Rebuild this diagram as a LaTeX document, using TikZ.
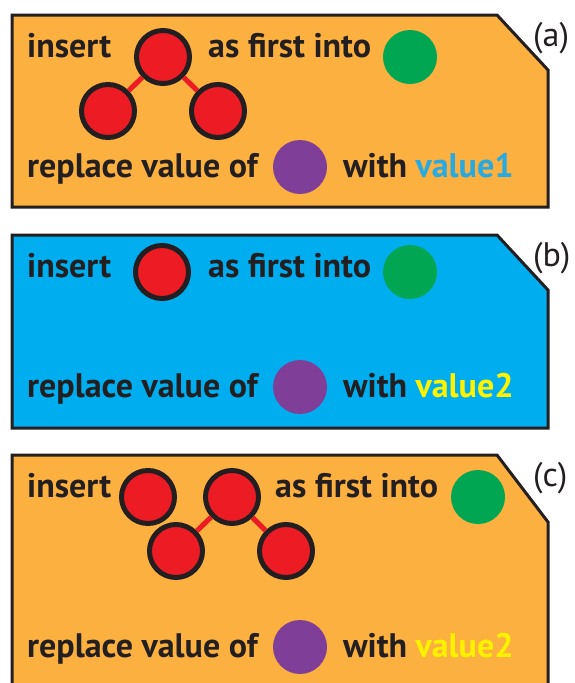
\documentclass[tikz,border=0pt]{standalone}
\usepackage{fontspec}
\setmainfont{PT Sans}
\usetikzlibrary{positioning}

\definecolor{ink}{HTML}{231F20}
\definecolor{panelorange}{HTML}{FBB040}
\definecolor{panelblue}{HTML}{00AEEF}
\definecolor{elemred}{HTML}{ED1C24}
\definecolor{spotgreen}{HTML}{00A651}
\definecolor{spotpurple}{HTML}{7F3F98}
\definecolor{valblue}{HTML}{27AAE1}
\definecolor{valyellow}{HTML}{FFF200}

\begin{document}
\begin{tikzpicture}[x=1pt, y=-1pt,
  word/.style={font=\bfseries\fontsize{34}{40}\selectfont, text=ink, inner sep=0pt, anchor=base west},
  tag/.style={font=\fontsize{34}{40}\selectfont, text=ink, inner sep=0pt, anchor=base west},
  elem/.style={circle, draw=ink, line width=5pt, fill=elemred, minimum size=53pt, inner sep=0pt},
  spot/.style={circle, fill=#1, minimum size=54pt, inner sep=0pt},
  link/.style={draw=elemred, line width=5pt},
  panel/.style={draw=ink, line width=3pt, line join=miter},
  node distance=8pt]
\useasboundingbox (0,0) rectangle (575,683);

% (a) insert a small tree, replace with value1
\draw[panel, fill=panelorange] (12,15) -- (497,15) -- (548,70) -- (548,207) -- (12,207) -- cycle;
\node[tag] (tag-a) at (533,46) {(a)};
\node[word] (ins-a) at (27,57) {insert};
\node[elem] (a-root) at (163,57) {};
\node[elem] (a-left) at (108,111) {};
\node[elem] (a-right) at (218,111) {};
\draw[link] (a-root) -- (a-left);
\draw[link] (a-root) -- (a-right);
\node[word] (first-a) at (208,57) {as first into};
\node[spot=spotgreen] (tgt-a) at (410,57) {};
\node[word] (repl-a) at (27,177) {replace value of};
\node[spot=spotpurple] (key-a) at (300,167) {};
\node[word] (with-a) at (343,177) {with};
\node[word, text=valblue, base right=of with-a] (val-a) {value1};

% (b) insert a single node, replace with value2
\draw[panel, fill=panelblue] (12,235) -- (497,235) -- (548,290) -- (548,428) -- (12,428) -- cycle;
\node[tag] (tag-b) at (533,266) {(b)};
\node[word] (ins-b) at (27,277) {insert};
\node[elem] (b-one) at (162,272) {};
\node[word] (first-b) at (208,277) {as first into};
\node[spot=spotgreen] (tgt-b) at (410,272) {};
\node[word] (repl-b) at (27,397) {replace value of};
\node[spot=spotpurple] (key-b) at (300,387) {};
\node[word] (with-b) at (343,397) {with};
\node[word, text=valyellow, base right=of with-b] (val-b) {value2};

% (c) insert a node and a tree, replace with value2
\draw[panel, fill=panelorange] (12,700) -- (12,455) -- (497,455) -- (548,522) -- (548,700);
\node[tag] (tag-c) at (533,486) {(c)};
\node[word] (ins-c) at (27,497) {insert};
\node[elem] (c-one) at (148,497) {};
\node[elem] (c-root) at (232,497) {};
\node[elem] (c-left) at (176,551) {};
\node[elem] (c-right) at (286,551) {};
\draw[link] (c-root) -- (c-left);
\draw[link] (c-root) -- (c-right);
\node[word] (first-c) at (275,497) {as first into};
\node[spot=spotgreen] (tgt-c) at (478,497) {};
\node[word] (repl-c) at (27,657) {replace value of};
\node[spot=spotpurple] (key-c) at (300,647) {};
\node[word] (with-c) at (343,657) {with};
\node[word, text=valyellow, base right=of with-c] (val-c) {value2};
\end{tikzpicture}
\end{document}
